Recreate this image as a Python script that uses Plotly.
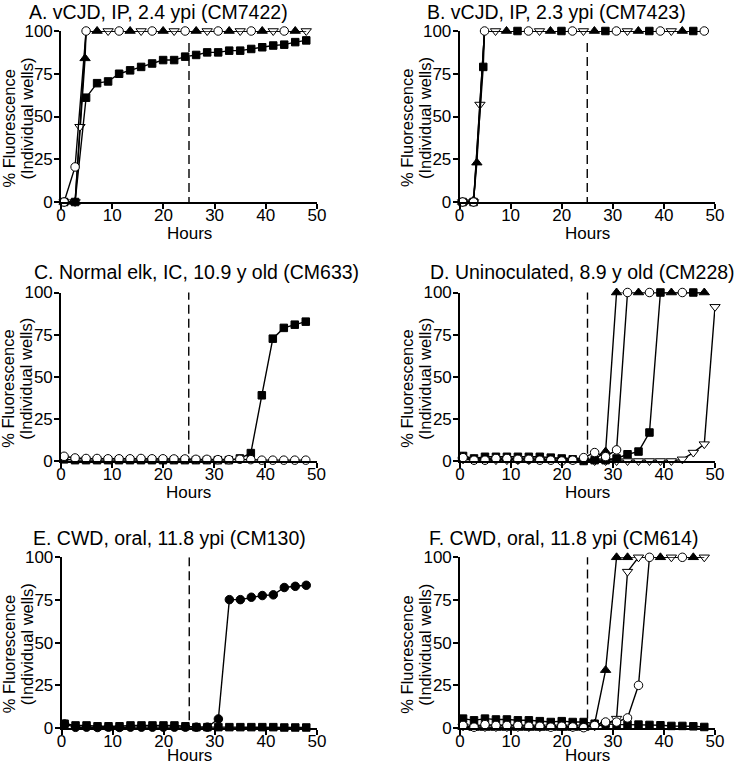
import plotly.graph_objects as go

W, H = 742, 765
FONT = "Liberation Sans, Arial, Helvetica, sans-serif"

# ---------------- data ----------------
HOURS = [0.6, 2.75, 4.9, 7.05, 9.2, 11.35, 13.5, 15.65, 17.8, 19.95, 22.1, 24.25,
         26.4, 28.55, 30.7, 32.85, 35.0, 37.15, 39.3, 41.45, 43.6, 45.75, 47.9, 50.0]
X_TICKS = [0, 10, 20, 30, 40, 50]
Y_TICKS = [0, 25, 50, 75, 100]
CUTOFF_HOUR = 25

TITLES = ["A. vCJD, IP, 2.4 ypi (CM7422)", "B. vCJD, IP, 2.3 ypi (CM7423)",
          "C. Normal elk, IC, 10.9 y old (CM633)", "D. Uninoculated, 8.9 y old (CM228)",
          "E. CWD, oral, 11.8 ypi (CM130)", "F. CWD, oral, 11.8 ypi (CM614)"]
X_TITLE = "Hours"
Y_TITLE_LINES = ["% Fluorescence", "(Individual wells)"]

# Panel A
A_TRI_UP = [0, 0, 100, 100, 100, 100, 100, 100, 100, 100, 100, 100, 100, 100, 100, 100,
            100, 100, 100, 100, 100, 100, 100]
A_TRI_UP_EXTRA_X = [4.7]
A_TRI_UP_EXTRA_Y = [84]
A_TRI_DOWN = [0, 0, 100, 100, 100, 100, 100, 100, 100, 100, 100, 100, 100, 100, 100, 100,
              100, 100, 100, 100, 100, 100, 100]
A_TRI_DOWN_EXTRA_X = [3.7]
A_TRI_DOWN_EXTRA_Y = [44]
A_SQUARE = [0, 0, 61, 69.5, 70.5, 75, 77, 79, 81, 83, 83, 85, 86, 87.5, 87.5, 88.5, 88.5,
            89.5, 90.5, 91.5, 92, 93.5, 94.5]
A_CIRCLE = [0, 20.5, 100, 100, 100, 100, 100, 100, 100, 100, 100, 100, 100, 100, 100, 100,
            100, 100, 100, 100, 100, 100, 100]

# Panel B
B_TRI_UP = [0, 1, 100, 100, 100, 100, 100, 100, 100, 100, 100, 100, 100, 100, 100, 100,
            100, 100, 100, 100, 100, 100, 100]
B_TRI_UP_EXTRA_X = [3.4]
B_TRI_UP_EXTRA_Y = [23]
B_TRI_DOWN = [0, 0, 100, 100, 100, 100, 100, 100, 100, 100, 100, 100, 100, 100, 100, 100,
              100, 100, 100, 100, 100, 100, 100]
B_TRI_DOWN_EXTRA_X = [4.0]
B_TRI_DOWN_EXTRA_Y = [57]
B_SQUARE = [0, 0, 100, 100, 100, 100, 100, 100, 100, 100, 100, 100, 100, 100, 100, 100,
            100, 100, 100, 100, 100, 100, 100]
B_SQUARE_EXTRA_X = [4.65]
B_SQUARE_EXTRA_Y = [79]
B_CIRCLE = [0, 0, 100, 100, 100, 100, 100, 100, 100, 100, 100, 100, 100, 100, 100, 100,
            100, 100, 100, 100, 100, 100, 100]

# Panel C
C_SQUARE = [1, 0.5, 0.5, 0.5, 0.5, 0.5, 0.5, 0.5, 0.5, 0.5, 0.5, 0.5, 0.5, 0.5, 0.5, 0.5,
            1.5, 4.7, 39, 72.6, 79, 80.9, 82.7]
C_CIRCLE = [2.8, 1.8, 1.5, 1.5, 1.3, 1.3, 1.3, 1.5, 1.3, 1.3, 1.2, 1.2, 1.0, 1.0, 0.8, 0.8,
            1.0, 0.8, 0.5, 0.5, 0.5, 0.5, 0.5]

# Panel D
D_TRI_DOWN = [1, 0.5, 0.5, 0.5, 0.5, 0.5, 0.5, 0.5, 0.5, 0.5, 0.5, 0.5, 0, 0, 0, 0, 0, 0,
              0, 0, 1, 5, 10, 91.5]
D_TRI_UP = [2.5, 1, 1.5, 1, 1, 1, 1, 1, 0.5, 0.5, 0.5, 0.5, 1, 5.6, 100, 100, 100, 100,
            100, 100, 100, 100, 100]
D_SQUARE = [3, 1.5, 2.5, 2.5, 2.5, 2.5, 2.5, 2.5, 2, 1.5, 1, 0, 0.5, 0.5, 1.5, 4, 5.6, 16.9,
            100, 100, 100, 100, 100]
D_CIRCLE = [2, 0.5, 0.5, 1.5, 1.5, 1, 1, 0.5, 0.5, 0, 0.5, 2, 5, 2.6, 6.6, 100, 100, 100,
            100, 100, 100, 100, 100]

# Panel E
E_CIRCLE = [2.3, 0.4, 0.5, 0.3, 0.5, 0.3, 0.5, 0.5, 0.5, 0.5, 0.5, 0.5, 0.5, 0.5, 5.3,
            75.2, 75.2, 76.6, 77.6, 78, 82.3, 83, 83.6]
E_SQUARE = [2.5, 1.5, 1.5, 1, 1, 1, 1.5, 1.5, 1.5, 1.5, 1.5, 1, 0.5, 0.5, 0.5, 0.5, 0.5,
            0.5, 0.5, 0.5, 0.3, 0.3, 0.3]

# Panel F
F_TRI_UP = [0.5, 0, 0, 0, 0, 0, 0, 0, 0, 0, 0, 0, 2.5, 33.9, 100, 100, 100, 100, 100, 100,
            100, 100, 100]
F_TRI_DOWN = [1, 0.5, 0.5, 0.5, 0.5, 0.5, 0.5, 0.5, 0.5, 0.5, 0.5, 0.5, 1, 2, 5.5, 91.6,
              100, 100, 100, 100, 100, 100, 100]
F_SQUARE = [5.5, 4.5, 5.5, 5, 5, 4.5, 4.5, 4, 3.5, 4, 3.5, 3.5, 2.5, 2.5, 2, 2, 2, 1.8, 1.6,
            1.2, 1.2, 1, 0.6]
F_CIRCLE = [1.5, 0.5, 2, 1.5, 1.5, 1.5, 1, 1, 0.5, 1, 0.6, 0.2, 1.5, 3.5, 3.5, 5.9, 25,
            100, 100, 100, 100, 100, 100]

# ---------------- styles ----------------
STYLE = {
    "tri_up": dict(symbol="triangle-up", color="black", line=dict(color="black", width=1), size=9),
    "tri_down": dict(symbol="triangle-down", color="white", line=dict(color="black", width=1), size=9),
    "square": dict(symbol="square", color="black", line=dict(color="black", width=1), size=7.5),
    "circle": dict(symbol="circle", color="white", line=dict(color="black", width=1), size=8.5),
    "dot": dict(symbol="circle", color="black", line=dict(color="black", width=1), size=8.5),
}

PANELS = [
    dict(series=[("tri_up", A_TRI_UP, A_TRI_UP_EXTRA_X, A_TRI_UP_EXTRA_Y),
                 ("tri_down", A_TRI_DOWN, A_TRI_DOWN_EXTRA_X, A_TRI_DOWN_EXTRA_Y),
                 ("square", A_SQUARE, [], []),
                 ("circle", A_CIRCLE, [], [])],
         cycle=["circle", "tri_up", "tri_down"], dash_top=93),
    dict(series=[("tri_up", B_TRI_UP, B_TRI_UP_EXTRA_X, B_TRI_UP_EXTRA_Y),
                 ("tri_down", B_TRI_DOWN, B_TRI_DOWN_EXTRA_X, B_TRI_DOWN_EXTRA_Y),
                 ("square", B_SQUARE, B_SQUARE_EXTRA_X, B_SQUARE_EXTRA_Y),
                 ("circle", B_CIRCLE, [], [])],
         cycle=["circle", "tri_down", "tri_up", "square"], dash_top=93),
    dict(series=[("square", C_SQUARE, [], []),
                 ("circle", C_CIRCLE, [], [])],
         cycle=["square", "circle"], dash_top=101),
    dict(series=[("tri_down", D_TRI_DOWN, [], []),
                 ("tri_up", D_TRI_UP, [], []),
                 ("square", D_SQUARE, [], []),
                 ("circle", D_CIRCLE, [], [])],
         cycle=["tri_up", "circle", "square"], dash_top=101),
    dict(series=[("dot", E_CIRCLE, [], []),
                 ("square", E_SQUARE, [], [])],
         cycle=["dot", "square"], dash_top=100),
    dict(series=[("tri_up", F_TRI_UP, [], []),
                 ("tri_down", F_TRI_DOWN, [], []),
                 ("square", F_SQUARE, [], []),
                 ("circle", F_CIRCLE, [], [])],
         cycle=["tri_up", "tri_down", "circle"], dash_top=101),
]

# plot-area boxes in pixels: (left, right, top, bottom)
BOXES = [(61, 317, 31, 202), (459.5, 715, 31, 202),
         (61, 316.5, 292.5, 461), (460, 715, 292.5, 461),
         (61.5, 317, 557.3, 728), (460, 715, 557.3, 728)]
TITLE_POS = [(158, 12), (556, 12), (196, 272), (582, 272), (169, 537.5), (563, 537.5)]
HOURS_DY = [31, 31, 31, 31, 27, 27]
# y-title line offsets (px) from the plot's left edge / vertical centre
Y_TITLE_DX = [-53, -35]
Y_TITLE_DY = [12, 2]


def px_x(px):
    return px / W


def px_y(py):
    return 1 - py / H


def plateau_visibility(series, order):
    vals = {name: v for name, v, _, _ in series}
    vis = {name: [True] * len(v) for name, v in vals.items()}
    n = max(len(v) for v in vals.values())
    pointer = -1
    for k in range(n):
        top = [nm for nm in order if nm in vals and k < len(vals[nm]) and vals[nm][k] >= 100]
        if not top:
            continue
        for nm in top:
            vis[nm][k] = False
        for step in range(1, len(order) + 1):
            cand = order[(pointer + step) % len(order)]
            if cand in top:
                pointer = order.index(cand)
                vis[cand][k] = True
                break
    return vis


fig = go.Figure()
annotations = []
shapes = []
layout_axes = {}

for i, (panel, box) in enumerate(zip(PANELS, BOXES)):
    n = i + 1
    xa = "x" if n == 1 else f"x{n}"
    ya = "y" if n == 1 else f"y{n}"
    vis = plateau_visibility(panel["series"], panel["cycle"])
    for name, vals, ex, ey in panel["series"]:
        st = STYLE[name]
        pts = [(HOURS[k], vals[k], st["size"] if vis[name][k] else 0) for k in range(len(vals))]
        pts += [(x, y, st["size"]) for x, y in zip(ex, ey)]
        pts.sort(key=lambda p: p[0])
        fig.add_trace(go.Scatter(
            x=[p[0] for p in pts], y=[p[1] for p in pts],
            mode="lines+markers", xaxis=xa, yaxis=ya, cliponaxis=False,
            line=dict(color="black", width=1.4),
            marker=dict(symbol=st["symbol"], color=st["color"], line=st["line"],
                        size=[p[2] for p in pts], opacity=1),
            showlegend=False, hoverinfo="skip"))
    left, right, top, bottom = box
    common = dict(showline=True, linecolor="black", linewidth=1.6, ticks="outside",
                  ticklen=5, tickwidth=1.6, tickcolor="black", showgrid=False,
                  zeroline=False, fixedrange=True, automargin=False,
                  tickfont=dict(family=FONT, size=17, color="black"))
    layout_axes["xaxis" if n == 1 else f"xaxis{n}"] = dict(
        domain=[px_x(left), px_x(right)], range=[0, 50], anchor=ya,
        tickvals=X_TICKS, ticklabelstandoff=-8, **common)
    layout_axes["yaxis" if n == 1 else f"yaxis{n}"] = dict(
        domain=[px_y(bottom), px_y(top)], range=[0, 100], anchor=xa,
        tickvals=Y_TICKS, ticklabelstandoff=-2, **common)
    shapes.append(dict(type="line", xref=xa, yref=ya, x0=CUTOFF_HOUR, x1=CUTOFF_HOUR,
                       y0=panel["dash_top"], y1=0,
                       line=dict(color="black", width=1.4, dash="9px,5px")))
    tx, ty = TITLE_POS[i]
    annotations.append(dict(text=TITLES[i], x=px_x(tx), y=px_y(ty), xref="paper", yref="paper",
                            xanchor="center", yanchor="middle", showarrow=False,
                            font=dict(family=FONT, size=19.5, color="black")))
    annotations.append(dict(text=X_TITLE, x=px_x((left + right) / 2),
                            y=px_y(bottom + HOURS_DY[i]),
                            xref="paper", yref="paper", xanchor="center", yanchor="middle",
                            showarrow=False, font=dict(family=FONT, size=17, color="black")))
    for line_text, dx, dy in zip(Y_TITLE_LINES, Y_TITLE_DX, Y_TITLE_DY):
        annotations.append(dict(text=line_text, x=px_x(left + dx),
                                y=px_y((top + bottom) / 2 + dy),
                                xref="paper", yref="paper", xanchor="center", yanchor="middle",
                                textangle=-90, showarrow=False,
                                font=dict(family=FONT, size=16.5, color="black")))

fig.update_layout(width=W, height=H, margin=dict(l=0, r=0, t=0, b=0, autoexpand=False),
                  paper_bgcolor="white", plot_bgcolor="white",
                  annotations=annotations, shapes=shapes, **layout_axes)
fig.write_html("out.html", config={"displayModeBar": False},
               post_script="document.body.style.margin='0';document.body.style.overflow='hidden';")
